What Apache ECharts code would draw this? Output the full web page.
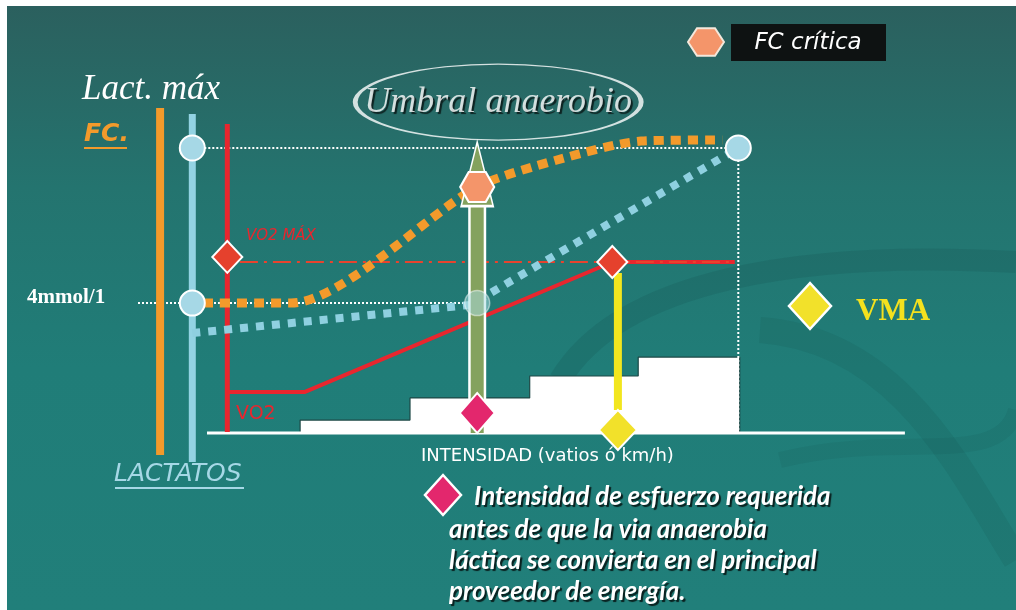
<!DOCTYPE html>
<html>
<head>
<meta charset="utf-8">
<script src="https://cdn.jsdelivr.net/npm/echarts@6/dist/echarts.min.js"></script>
<style>
html,body{margin:0;padding:0;background:#fff;}
#chart{width:1016px;height:610px;}
</style>
</head>
<body>
<div id="chart"></div>
<script>
// ---- data (x = intensity units, y = level units) ----
const fcCurve = [[-3, 43.3], [12, 43.3], [38.6, 82], [50, 91], [62, 97.3], [73.6, 97.7]];
const lactateCurve = [[-2.1, 33.3], [37.6, 42.7], [75.4, 94.3]];
const vo2Curve = [[2.9, 13.7], [14, 13.7], [57.9, 57], [75.4, 57]];
const vo2Axis = [[2.9, 103], [2.9, 0.3]];
const fcBar = [[-6.7, 108.3], [-6.7, -7.3]];
const lactBar = [[-2.1, 106.3], [-2.1, -9.7]];
const intensitySteps = [[13.3, 0], [13.3, 4.3], [29, 11.7], [46.1, 19], [61.6, 25.3], [76.1, 25.3], [76.1, 0]];
const baseline = [[0, 0], [99.7, 0]];
const lactMaxLine = [[-2.1, 95], [75.9, 95]];
const maxIntensityLine = [[75.9, 95], [75.9, 0]];
const fourMmolLine = [[-11, 43.3], [38.6, 43.3]];
const vo2MaxLine = [[4.7, 57], [75.4, 57]];
const thresholdShaft = [[38.6, 0], [38.6, 76]];
const vmaLine = [[58.7, 53.3], [58.7, 7.7]];
const lactCircles = [[-2.1, 95], [75.9, 95], [-2.1, 43.3]];
const thresholdCircle = [[38.6, 43.3]];
const vo2Diamonds = [[2.9, 58.7], [57.9, 57]];
const fcCritica = [[38.6, 82]];
const arrowHead = [[38.6, 86.3]];
const thresholdMark = [[38.6, 6.7]];
const vmaMark = [[58.7, 1]];
const umbralLabel = [[41.6, 110.3]];
const noteLines = [
  'Intensidad de esfuerzo requerida',
  'antes de que la via anaerobia',
  'láctica se convierta en el principal',
  'proveedor de energía.'
];

const hexPath = 'path://M-1,0L-0.5,-0.866L0.5,-0.866L1,0L0.5,0.866L-0.5,0.866Z';
const shadow = {textShadowColor: 'rgba(0,0,0,0.75)', textShadowOffsetX: 2, textShadowOffsetY: 2, textShadowBlur: 1};

function lineS(data, color, width, type, extra) {
  return Object.assign({
    type: 'line', data: data, symbol: 'none', clip: false, silent: true,
    lineStyle: {color: color, width: width, type: type || 'solid', cap: 'butt'}
  }, extra || {});
}
function scat(data, symbol, size, color, extra) {
  return Object.assign({
    type: 'scatter', data: data, symbol: symbol, symbolSize: size, clip: false, silent: true,
    itemStyle: {color: color, borderColor: '#ffffff', borderWidth: 2, opacity: 1}
  }, extra || {});
}
function hexPoints(cx, cy, rx, ry) {
  const p = [];
  for (let i = 0; i < 6; i++) {
    const a = Math.PI / 3 * i;
    p.push([cx + rx * Math.cos(a), cy + ry * Math.sin(a)]);
  }
  return p;
}
function txt(text, x, y, o) {
  return {type: 'text', z: 20, style: Object.assign({text: text, x: x, y: y, fill: '#fff', verticalAlign: 'middle'}, o)};
}

const chart = echarts.init(document.getElementById('chart'), null, {renderer: 'canvas'});
const option = {
  backgroundColor: '#ffffff',
  animation: false,
  grid: {left: 137, right: 39, top: 103, bottom: 147, show: false},
  xAxis: {type: 'value', min: -10, max: 110, show: false},
  yAxis: {type: 'value', min: -10, max: 110, show: false},
  graphic: {elements: [
    {type: 'rect', z: -10, shape: {x: 7, y: 6, width: 1009, height: 604},
     style: {fill: {type: 'linear', x: 0, y: 0, x2: 0, y2: 1, colorStops: [
       {offset: 0, color: '#2b605e'}, {offset: 0.3, color: '#24746f'}, {offset: 0.6, color: '#207d78'}, {offset: 1, color: '#217f7a'}]}}},
    {type: 'bezierCurve', z: -5, shape: {x1: 560, y1: 380, cpx1: 620, cpy1: 280, cpx2: 800, cpy2: 250, x2: 1016, y2: 262},
     style: {stroke: 'rgba(20,70,68,0.16)', lineWidth: 22, fill: null}},
    {type: 'bezierCurve', z: -5, shape: {x1: 760, y1: 330, cpx1: 900, cpy1: 340, cpx2: 960, cpy2: 470, x2: 1016, y2: 560},
     style: {stroke: 'rgba(20,70,68,0.12)', lineWidth: 26, fill: null}},
    {type: 'bezierCurve', z: -5, shape: {x1: 780, y1: 460, cpx1: 900, cpy1: 430, cpx2: 1000, cpy2: 470, x2: 1016, y2: 410},
     style: {stroke: 'rgba(20,70,68,0.1)', lineWidth: 16, fill: null}},
    // texts
    txt('Lact. máx', 82, 90, {font: 'italic 35px "Liberation Serif"', fill: '#ffffff', textShadowColor: 'rgba(0,0,0,0.8)', textShadowOffsetX: 2, textShadowOffsetY: 2}),
    txt('FC.', 84, 134, {font: 'italic bold 25px "DejaVu Sans"', fill: '#f39a2b', textShadowColor: 'rgba(0,0,0,0.6)', textShadowOffsetX: 2, textShadowOffsetY: 2}),
    {type: 'line', z: 20, shape: {x1: 84, y1: 148, x2: 127, y2: 148}, style: {stroke: '#f39a2b', lineWidth: 2}},
    txt('4mmol/1', 27, 298, {font: 'bold 21px "Liberation Serif"', fill: '#ffffff', textShadowColor: 'rgba(0,0,0,0.6)', textShadowOffsetX: 1, textShadowOffsetY: 1}),
    txt('LACTATOS', 114, 474, {font: 'italic 25px "DejaVu Sans"', fill: '#a6d8e6', textShadowColor: 'rgba(0,0,0,0.6)', textShadowOffsetX: 2, textShadowOffsetY: 2}),
    {type: 'line', z: 20, shape: {x1: 115, y1: 488, x2: 244, y2: 488}, style: {stroke: '#a6d8e6', lineWidth: 2}},
    txt('VO2 MÁX', 246, 236, {font: 'italic 15px "DejaVu Sans"', fill: '#e8262e'}),
    txt('VO2', 236, 414, {font: '19px "DejaVu Sans"', fill: '#e8262e'}),
    txt('INTENSIDAD (vatios ó km/h)', 421, 456, {font: '18px "DejaVu Sans"', fill: '#ffffff', textShadowColor: 'rgba(0,0,0,0.5)', textShadowOffsetX: 1, textShadowOffsetY: 1}),
    // legend FC crítica
    {type: 'polygon', z: 20, shape: {points: hexPoints(706, 42, 18, 16)}, style: {fill: '#f4956a', stroke: '#f3e8dc', lineWidth: 2}},
    {type: 'rect', z: 20, shape: {x: 731, y: 24, width: 155, height: 37}, style: {fill: '#0e1212'}},
    txt('FC crítica', 808, 43, {font: 'italic 23px "DejaVu Sans"', fill: '#ffffff', textAlign: 'center'}),
    // VMA legend
    {type: 'polygon', z: 20, shape: {points: [[810, 283], [831, 306], [810, 329], [789, 306]]}, style: {fill: '#f2e12a', stroke: '#ffffff', lineWidth: 2.5}},
    txt('VMA', 856, 312, {font: 'bold 31px "Liberation Serif"', fill: '#f4e11e', textShadowColor: 'rgba(0,0,0,0.7)', textShadowOffsetX: 2, textShadowOffsetY: 2}),
    // note
    {type: 'polygon', z: 20, shape: {points: [[443, 475], [461, 495], [443, 515], [425, 495]]}, style: {fill: '#e3276d', stroke: '#ffffff', lineWidth: 2.5}},
    txt(noteLines[0], 474, 497, Object.assign({font: 'italic bold 26px Lato'}, shadow)),
    txt(noteLines[1], 449, 530, Object.assign({font: 'italic bold 26px Lato'}, shadow)),
    txt(noteLines[2], 449, 561, Object.assign({font: 'italic bold 26px Lato'}, shadow)),
    txt(noteLines[3], 449, 592, Object.assign({font: 'italic bold 26px Lato'}, shadow))
  ]},
  series: [
    lineS(intensitySteps, '#1d4846', 1.2, 'solid', {step: 'end', areaStyle: {color: '#ffffff', opacity: 1}, z: 1}),
    lineS(baseline, '#ffffff', 3),
    lineS(lactMaxLine, '#ffffff', 2, [2, 2]),
    lineS(maxIntensityLine, '#ffffff', 2, [2, 2]),
    lineS(fourMmolLine, '#ffffff', 2, [2, 2]),
    lineS(fcBar, '#f39a2b', 8),
    lineS(lactBar, '#93d3e3', 7),
    lineS(vo2Axis, '#e8262e', 5),
    lineS(vo2Curve, '#e8262e', 4),
    lineS(vo2MaxLine, '#e8432e', 2, [18, 6, 3, 6]),
    lineS(lactateCurve, '#8fd0e0', 8, [8, 8]),
    lineS(fcCurve, '#f39a2b', 9, [10, 7], {smooth: 0.25}),
    lineS(thresholdShaft, '#ffffff', 18, 'solid', {z: 3}),
    lineS(thresholdShaft, '#84a25e', 13, 'solid', {z: 3}),
    lineS(vmaLine, '#f2e61e', 8, 'solid', {z: 3}),
    scat(arrowHead, 'triangle', [32, 64], '#84a25e', {z: 3}),
    scat(lactCircles, 'circle', 25, '#a6d8e6', {z: 4}),
    scat(thresholdCircle, 'circle', 25, 'rgba(180,225,225,0.7)', {z: 4, itemStyle: {color: 'rgba(170,220,225,0.65)', borderColor: 'rgba(255,255,255,0.6)', borderWidth: 1.5}}),
    scat(vo2Diamonds, 'diamond', [30, 32], '#e5412d', {z: 4}),
    scat(fcCritica, hexPath, [34, 30], '#f4956a', {z: 5}),
    scat(thresholdMark, 'diamond', [35, 40], '#e3276d', {z: 5}),
    scat(vmaMark, 'diamond', [38, 40], '#f2e12a', {z: 5}),
    scat(umbralLabel, 'circle', [286, 76], 'rgba(0,0,0,0)', {z: 6,
      itemStyle: {color: 'rgba(0,0,0,0)', borderColor: '#ffffff', borderWidth: 2.5},
      label: {show: true, position: 'inside', formatter: 'Umbral anaerobio', color: '#ffffff',
        fontFamily: 'Liberation Serif', fontStyle: 'italic', fontSize: 36, textBorderWidth: 0,
        textShadowColor: 'rgba(0,0,0,0.85)', textShadowOffsetX: 2, textShadowOffsetY: 2, textShadowBlur: 1}})
  ]
};
chart.setOption(option);
</script>
</body>
</html>
